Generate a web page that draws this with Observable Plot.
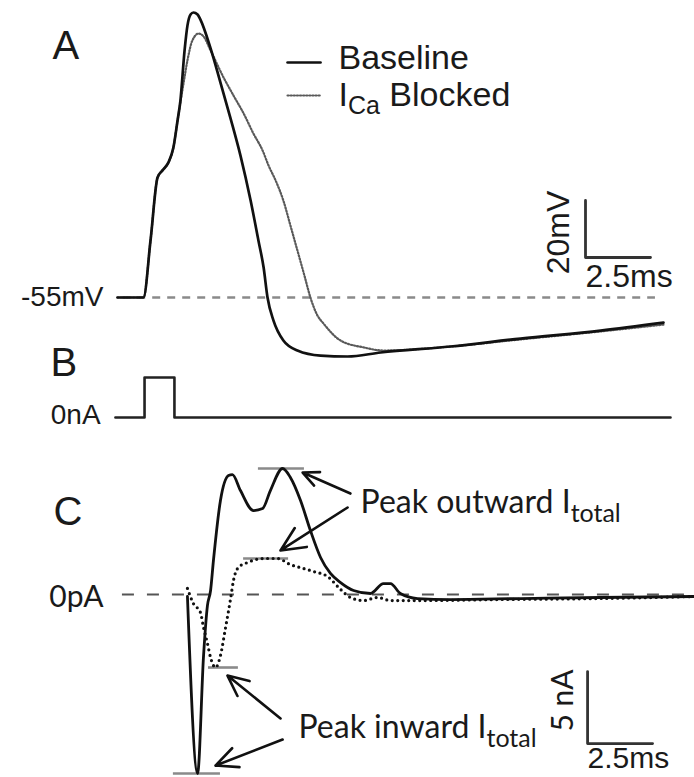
<!DOCTYPE html>
<html><head><meta charset="utf-8">
<script src="https://cdn.jsdelivr.net/npm/d3@7"></script>
<script src="https://cdn.jsdelivr.net/npm/@observablehq/plot@0.6"></script>
<style>
body{margin:0;background:#fff;}
#fig{position:relative;width:694px;height:777px;background:#fff;overflow:hidden;}
#fig svg{position:absolute;left:0;overflow:visible;background:transparent;}
</style></head><body><div id="fig"></div>
<script>
// ---------- Panel A: membrane potential (ms, mV) ----------
const tA_baseline = [0,1.0,1.27,1.54,1.73,1.96,2.15,2.31,2.42,2.58,2.69,2.81,2.92,3.08,3.19,3.58,3.96,4.35,4.73,5.12,5.42,5.62,5.77,6.0,6.38,6.92,7.81,8.85,10.12,12.81,15.5,18.58,21.0];
const vA_baseline = [-55,-55,-35.0,-12.9,-10.4,-7.6,-2.4,7.1,14.1,31.7,40.4,44.3,45.0,44.3,42.5,32.4,20.4,7.8,-5.2,-21.0,-35.0,-44.5,-55,-63.1,-70.1,-73.6,-75.4,-75.7,-74.3,-72.2,-69.4,-66.6,-63.8];
const tA_blocked = [0,1.0,1.27,1.54,1.73,1.96,2.15,2.31,2.54,2.69,2.88,3.12,3.31,3.58,4.08,4.46,4.85,5.23,5.58,5.81,6.08,6.38,6.65,6.92,7.19,7.42,7.69,7.92,8.58,9.46,10.23,12.81,15.5,18.58,21.0];
const vA_blocked = [-55,-55,-35.0,-12.9,-10.4,-7.6,-2.4,7.1,20.1,28.2,35.2,37.6,36.6,31.7,22.2,15.9,9.6,2.5,-3.4,-8.7,-13.9,-21.0,-29.7,-38.5,-47.3,-55,-61.3,-64.1,-70.1,-72.5,-73.6,-72.2,-69.7,-66.9,-64.5];
const restingPotential = -55;
const seriesNames = ["Baseline", "I_{Ca} Blocked"];

// ---------- Panel B: injected current step ----------
const tB = [-0.08,1.04,1.04,2.19,2.19,21.27];
const iB = [0,0,1,1,0,0];

// ---------- Panel C: total current (ms, nA) ----------
const tC_baseline = [2.69,3.08,3.31,3.46,3.58,3.69,3.96,4.27,4.42,4.73,5.23,5.58,5.88,6.35,6.65,7.04,7.42,7.81,8.19,8.58,9.08,9.73,10.23,10.5,10.88,11.54,12.81,15.5,18.58,22.19];
const iC_baseline = [-0.14,-12.43,-4.24,-0.76,0.28,2.36,6.53,8.26,8.33,7.22,5.83,5.97,7.22,8.75,8.13,6.53,4.44,2.57,1.46,0.83,0.28,0.07,0.76,0.76,0.07,-0.28,-0.35,-0.28,-0.21,-0.14];
const tC_blocked = [2.69,2.92,3.19,3.31,3.46,3.58,3.77,3.96,4.15,4.35,4.46,4.65,5.0,5.62,6.15,6.65,7.15,7.54,8.08,8.58,8.96,9.46,10.0,10.5,11.65,14.73,18.58,22.19];
const iC_blocked = [0.42,-0.63,-1.25,-2.29,-3.40,-4.38,-5.07,-4.24,-2.36,-0.28,0.97,1.88,2.22,2.5,2.5,2.08,1.81,1.60,1.25,0.35,-0.21,-0.42,-0.21,-0.42,-0.42,-0.35,-0.28,-0.14];
const peakLabels = ["Peak outward I_{total}", "Peak inward I_{total}"];

// ---------- helpers ----------
const zip = (ts, vs) => ts.map((t, i) => ({t, v: vs[i]}));
const xDomain = [-4.5, 22.1923];
const ARIAL = "Liberation Sans, Arial, Helvetica, sans-serif";
const CAL = "Lato, Carlito, Calibri, sans-serif";
const ink = "#1a1a1a";

function subscripts(svg, subSize, shift) {
  const ns = "http://www.w3.org/2000/svg";
  svg.querySelectorAll("text").forEach(el => {
    const m = el.textContent.match(/^(.*?)_\{(.*?)\}(.*)$/);
    if (!m) return;
    el.textContent = "";
    const a = document.createElementNS(ns, "tspan"); a.textContent = m[1]; el.appendChild(a);
    const b = document.createElementNS(ns, "tspan"); b.textContent = m[2];
    b.setAttribute("font-size", subSize); b.setAttribute("dy", shift); el.appendChild(b);
    if (m[3]) { const c = document.createElementNS(ns, "tspan"); c.textContent = m[3]; c.setAttribute("dy", -shift); el.appendChild(c); }
  });
}
function place(svg, top) { svg.style.top = top + "px"; document.getElementById("fig").appendChild(svg); }

const base = (height, yDomain) => ({
  width: 694, height, margin: 0,
  x: {domain: xDomain, axis: null},
  y: {domain: yDomain, axis: null},
  style: {background: "transparent", overflow: "visible"}
});

// ---------- Panel A ----------
const dA_base = zip(tA_baseline, vA_baseline);
const dA_block = zip(tA_blocked, vA_blocked);
const svgA = Plot.plot({
  ...base(365, [-78.86, 49.21]),
  marks: [
    Plot.ruleY([restingPotential], {x1: 0.2, x2: 20.69, stroke: "#8a8a8a", strokeWidth: 2.4, strokeDasharray: "8,7"}),
    Plot.line(dA_block, {x: "t", y: "v", stroke: "#5a5a5a", strokeWidth: 2.2, strokeDasharray: "1.2,1.9", curve: "monotone-x"}),
    Plot.line(dA_base, {x: "t", y: "v", stroke: "#111", strokeWidth: 2.7, curve: "monotone-x"}),
    // legend
    Plot.line([{t: 6.54, v: 27.46}, {t: 7.81, v: 27.46}], {x: "t", y: "v", stroke: "#111", strokeWidth: 2.6}),
    Plot.line([{t: 6.54, v: 15.88}, {t: 7.81, v: 15.88}], {x: "t", y: "v", stroke: "#5a5a5a", strokeWidth: 2.2, strokeDasharray: "1.2,1.9"}),
    Plot.text([seriesNames[0]], {x: 8.5, y: 28.86, text: d => d, textAnchor: "start", lineAnchor: "middle", fontSize: 34, fontFamily: ARIAL, fill: ink}),
    Plot.text([seriesNames[1]], {x: 8.5, y: 15.88, text: d => d, textAnchor: "start", lineAnchor: "middle", fontSize: 34, fontFamily: ARIAL, fill: ink}),
    // labels
    Plot.text(["A"], {x: -2.5, y: 33.2, text: d => d, textAnchor: "start", lineAnchor: "middle", fontSize: 40, fontFamily: ARIAL, fill: ink}),
    Plot.text(["-55mV"], {x: -0.54, y: restingPotential, text: d => d, textAnchor: "end", lineAnchor: "middle", fontSize: 28, fontFamily: ARIAL, fill: ink}),
    // scale bar 20 mV / 2.5 ms
    Plot.line([{t: 18.0, v: -20.96}, {t: 18.0, v: -40.96}, {t: 20.5, v: -40.96}], {x: "t", y: "v", stroke: "#333", strokeWidth: 2.8}),
    Plot.text(["20mV"], {x: 16.96, y: -32.2, text: d => d, rotate: -90, textAnchor: "middle", lineAnchor: "middle", fontSize: 32, fontFamily: ARIAL, fill: ink}),
    Plot.text(["2.5ms"], {x: 18.0, y: -47.6, text: d => d, textAnchor: "start", lineAnchor: "middle", fontSize: 32, fontFamily: ARIAL, fill: ink})
  ]
});
subscripts(svgA, 25, 8);
place(svgA, 0);

// ---------- Panel B ----------
const svgB = Plot.plot({
  ...base(100, [-0.575, 1.925]),
  marks: [
    Plot.line(zip(tB, iB), {x: "t", y: "v", stroke: "#222", strokeWidth: 2.6}),
    Plot.text(["B"], {x: -2.58, y: 1.35, text: d => d, textAnchor: "start", lineAnchor: "middle", fontSize: 40, fontFamily: ARIAL, fill: ink}),
    Plot.text(["0nA"], {x: -0.65, y: 0.05, text: d => d, textAnchor: "end", lineAnchor: "middle", fontSize: 28, fontFamily: ARIAL, fill: ink})
  ]
});
place(svgB, 340);

// ---------- Panel C ----------
const dC_base = zip(tC_baseline, iC_baseline);
const dC_block = zip(tC_blocked, iC_blocked);
const peakBars = [
  {x1: 5.42, x2: 7.19, y: d3.max(iC_baseline)},
  {x1: 4.85, x2: 6.58, y: d3.max(iC_blocked)},
  {x1: 2.15, x2: 3.96, y: d3.min(iC_baseline)},
  {x1: 3.50, x2: 4.65, y: d3.min(iC_blocked)}
];
const arrows = [
  {x1: 8.96, y1: 7.01, x2: 7.12, y2: 8.47},
  {x1: 8.85, y1: 6.04, x2: 6.27, y2: 3.06},
  {x1: 6.27, y1: -8.61, x2: 4.23, y2: -5.63},
  {x1: 6.35, y1: -10.07, x2: 3.77, y2: -11.88}
];
const svgC = Plot.plot({
  ...base(337, [-12.708, 10.694]),
  marks: [
    Plot.ruleY([0], {x1: 0.19, x2: 22.19, stroke: "#555", strokeWidth: 2, strokeDasharray: "12,13"}),
    Plot.ruleY(peakBars, {x1: "x1", x2: "x2", y: "y", stroke: "#8a8a8a", strokeWidth: 2.6}),
    Plot.line(dC_block, {x: "t", y: "v", stroke: "#111", strokeWidth: 3.2, strokeDasharray: "0,5.5", strokeLinecap: "round", curve: "monotone-x"}),
    Plot.line(dC_base, {x: "t", y: "v", stroke: "#111", strokeWidth: 2.8, curve: "monotone-x"}),
    Plot.arrow(arrows, {x1: "x1", y1: "y1", x2: "x2", y2: "y2", stroke: "#111", strokeWidth: 2.6, headLength: 16, headAngle: 50, bend: 0}),
    Plot.text([peakLabels[0]], {x: 9.35, y: 6.39, text: d => d, textAnchor: "start", lineAnchor: "middle", fontSize: 32, fontFamily: CAL, fill: ink}),
    Plot.text([peakLabels[1]], {x: 6.96, y: -9.24, text: d => d, textAnchor: "start", lineAnchor: "middle", fontSize: 32, fontFamily: CAL, fill: ink}),
    Plot.text(["C"], {x: -2.46, y: 5.69, text: d => d, textAnchor: "start", lineAnchor: "middle", fontSize: 40, fontFamily: ARIAL, fill: ink}),
    Plot.text(["0pA"], {x: -0.54, y: -0.21, text: d => d, textAnchor: "end", lineAnchor: "middle", fontSize: 30, fontFamily: CAL, fill: ink}),
    // scale bar 5 nA / 2.5 ms
    Plot.line([{t: 18.08, v: -5.35}, {t: 18.08, v: -10.35}, {t: 20.58, v: -10.35}], {x: "t", y: "v", stroke: "#333", strokeWidth: 2.8}),
    Plot.text(["5 nA"], {x: 17.15, y: -7.36, text: d => d, rotate: -90, textAnchor: "middle", lineAnchor: "middle", fontSize: 30, fontFamily: CAL, fill: ink}),
    Plot.text(["2.5ms"], {x: 18.08, y: -11.4, text: d => d, textAnchor: "start", lineAnchor: "middle", fontSize: 30, fontFamily: ARIAL, fill: ink})
  ]
});
subscripts(svgC, 25, 9);
place(svgC, 440);
</script></body></html>
